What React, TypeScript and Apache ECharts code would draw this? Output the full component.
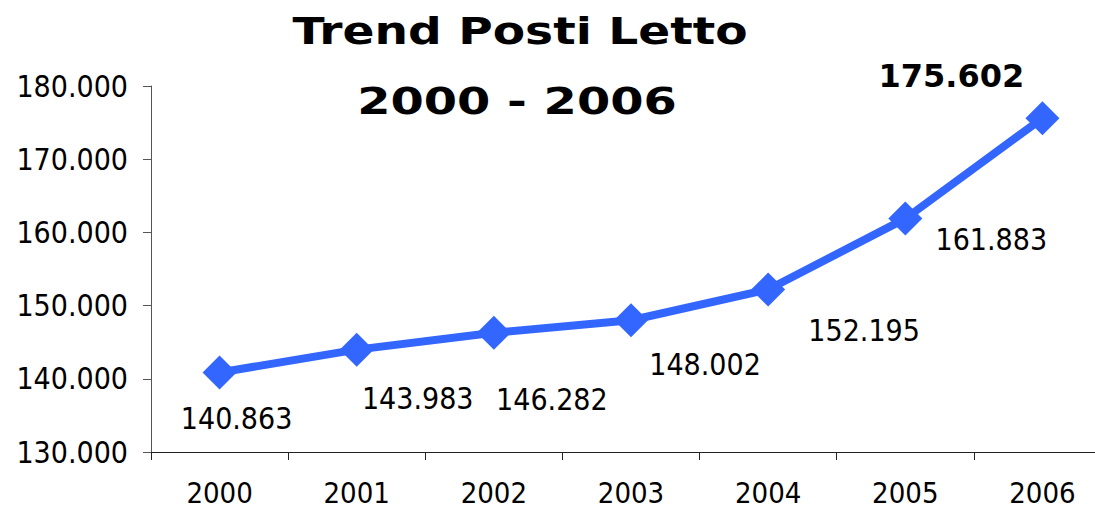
import React, { useEffect, useRef } from "react";
import * as echarts from "echarts";

const years = ["2000", "2001", "2002", "2003", "2004", "2005", "2006"];
const beds = [140863, 143983, 146282, 148002, 152195, 161883, 175602];
const yTicks = [130000, 140000, 150000, 160000, 170000, 180000];
const titleLines = ["Trend Posti Letto", "2000 - 2006"];

const FONT = "'DejaVu Sans Condensed', 'DejaVu Sans', sans-serif";
const BOLD_FONT = "'DejaVu Sans', sans-serif";
const fmt = (v: number) => {
  const s = Math.round(v).toString();
  return s.replace(/\B(?=(\d{3})+(?!\d))/g, ".");
};

// label offsets (style only)
const labelOffsets: number[][] = [
  [17, 46],
  [61, 49],
  [58, 67],
  [74, 44],
  [96, 41],
  [86, 21],
  [-91, -42],
];

export default function App() {
  const ref = useRef<HTMLDivElement>(null);
  useEffect(() => {
    document.body.style.margin = "0";
    const chart = echarts.init(ref.current!, null, { renderer: "svg" });
    chart.setOption({
      animation: false,
      backgroundColor: "#ffffff",
      graphic: [
        {
          type: "text",
          x: 520,
          y: 30.5,
          scaleX: 1.24,
          style: {
            text: titleLines[0],
            font: `bold 38px ${BOLD_FONT}`,
            fill: "#000",
            textAlign: "center",
            textVerticalAlign: "middle",
          },
        },
        {
          type: "text",
          x: 517,
          y: 100.5,
          scaleX: 1.26,
          style: {
            text: titleLines[1],
            font: `bold 38px ${BOLD_FONT}`,
            fill: "#000",
            textAlign: "center",
            textVerticalAlign: "middle",
          },
        },
      ],
      grid: { left: 151, top: 86, width: 960, height: 366 },
      xAxis: {
        type: "category",
        data: years,
        boundaryGap: true,
        axisLine: { lineStyle: { color: "#222", width: 1 } },
        axisTick: { show: true, length: 8, inside: false, lineStyle: { color: "#222" } },
        axisLabel: {
          fontFamily: FONT,
          fontSize: 29,
          lineHeight: 24,
          color: "#000",
          margin: 29,
        },
        splitLine: { show: false },
      },
      yAxis: {
        type: "value",
        min: yTicks[0],
        max: yTicks[yTicks.length - 1],
        interval: 10000,
        axisLine: { show: true, lineStyle: { color: "#555", width: 1 } },
        axisTick: { show: true, length: 8, lineStyle: { color: "#555" } },
        axisLabel: {
          fontFamily: FONT,
          fontSize: 30,
          color: "#000",
          margin: 23,
          formatter: (v: number) => fmt(v),
        },
        splitLine: { show: false },
      },
      series: [
        {
          type: "line",
          data: beds.map((v, i) => ({
            value: v,
            label: {
              show: true,
              position: "inside",
              offset: labelOffsets[i],
              formatter: fmt(v),
              fontFamily: i === beds.length - 1 ? BOLD_FONT : FONT,
              fontSize: i === beds.length - 1 ? 32 : 30,
              fontWeight: i === beds.length - 1 ? "bold" : "normal",
              color: "#000",
            },
          })),
          symbol: "diamond",
          symbolSize: 34,
          showSymbol: true,
          itemStyle: { color: "#3366FF" },
          lineStyle: { color: "#3366FF", width: 8 },
        },
      ],
    });
    return () => chart.dispose();
  }, []);
  return (
    <div style={{ width: 1095, height: 509, overflow: "hidden", position: "relative" }}>
      <div ref={ref} style={{ width: 1125, height: 509 }} />
    </div>
  );
}
